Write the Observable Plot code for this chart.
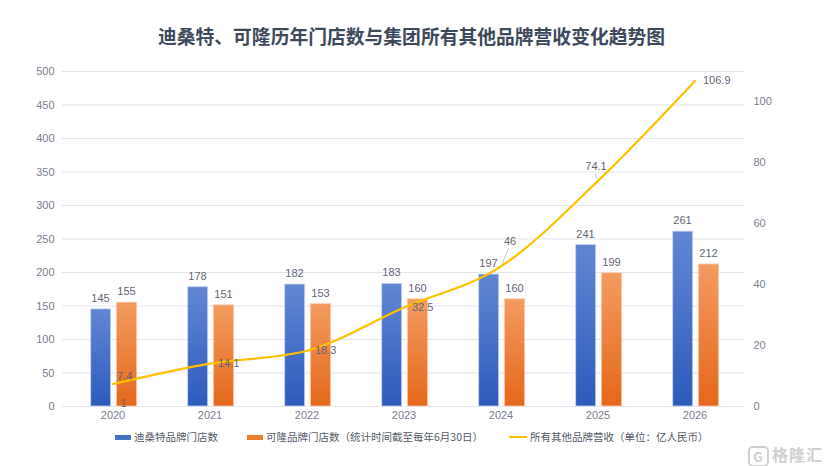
<!DOCTYPE html>
<html><head><meta charset="utf-8">
<script src="https://cdn.jsdelivr.net/npm/d3@7"></script>
<script src="https://cdn.jsdelivr.net/npm/@observablehq/plot@0.6"></script>
<style>
html,body{margin:0;padding:0;background:#fff;}
#wrap{position:relative;width:831px;height:466px;overflow:hidden;font-family:"Liberation Sans","Noto Sans CJK SC",sans-serif;}
#title{position:absolute;top:23px;left:0;width:823px;text-align:center;font-size:18.8px;font-weight:bold;color:#3e4a5c;line-height:26px;font-family:"Noto Sans CJK SC",sans-serif;}
#chart{position:absolute;top:55px;left:0;}
.leg{position:absolute;top:430px;font-size:10.5px;color:#555b66;line-height:14px;display:flex;align-items:center;font-family:"Noto Sans CJK SC",sans-serif;white-space:nowrap;}
.sw{display:inline-block;width:16px;height:5px;margin-right:3px;}
#wm{position:absolute;right:8px;top:442px;font-size:16px;color:#d0d0d0;font-family:"Noto Sans CJK SC",sans-serif;font-weight:bold;letter-spacing:1px;}
#wm span{display:inline-block;border:2px solid #d0d0d0;border-radius:5px;width:17px;height:17px;line-height:17px;text-align:center;font-size:13px;margin-right:3px;vertical-align:middle;}
</style></head>
<body>
<div id="wrap">
  <div id="title">迪桑特、可隆历年门店数与集团所有其他品牌营收变化趋势图</div>
  <div id="chart"></div>
  <div class="leg" style="left:115px"><span class="sw" style="background:#4472c4"></span>迪桑特品牌门店数</div>
  <div class="leg" style="left:247px"><span class="sw" style="background:#ed7d31"></span>可隆品牌门店数（统计时间截至每年6月30日）</div>
  <div class="leg" style="left:509px"><span class="sw" style="background:#ffc000;height:2.5px;width:18px"></span>所有其他品牌营收（单位：亿人民币）</div>
  <div id="wm"><span>G</span>格隆汇</div>
</div>
<script>
const years = ["2020","2021","2022","2023","2024","2025","2026"];
const descenteStores = [145,178,182,183,197,241,261];
const kolonStores = [155,151,153,160,160,199,212];
const otherRevenue = [7.4,14.1,18.3,32.5,46,74.1,106.9];
const leftTicks = [0,50,100,150,200,250,300,350,400,450,500];
const rightTicks = [0,20,40,60,80,100];
const rightMax = 110;
const leftMax = 500;
const k = leftMax / rightMax;

const rows = years.map((y,i)=>({year:y, d:descenteStores[i], c:kolonStores[i], r:otherRevenue[i], rs:otherRevenue[i]*k, i}));
const labelColor = "#5f6673";
const axisColor = "#7a8090";

function defs(){
  const ns="http://www.w3.org/2000/svg";
  const d=document.createElementNS(ns,"defs");
  const mk=(id,top,bot)=>{
    const g=document.createElementNS(ns,"linearGradient");
    g.setAttribute("id",id);g.setAttribute("x1","0");g.setAttribute("x2","0");g.setAttribute("y1","0");g.setAttribute("y2","1");
    g.setAttribute("gradientUnits","objectBoundingBox");
    [[0,top],[1,bot]].forEach(([o,c])=>{const s=document.createElementNS(ns,"stop");s.setAttribute("offset",o);s.setAttribute("stop-color",c);g.appendChild(s);});
    d.appendChild(g);
  };
  mk("gBlue","#6286d3","#2d5bbb");
  mk("gOrange","#f39b60","#e4681b");
  return d;
}

const rightGroup = rows.filter(r=>[1,2,3,6].includes(r.i));
const firstGroup = rows.filter(r=>r.i===0);
const aboveA = rows.filter(r=>r.i===4);
const aboveB = rows.filter(r=>r.i===5);

const plot = Plot.plot({
  width: 831,
  height: 370,
  marginTop: 16,
  marginBottom: 19,
  marginLeft: 62,
  marginRight: 86,
  style:{fontFamily:'"Liberation Sans","Noto Sans CJK SC",sans-serif', fontSize:"11px", background:"transparent"},
  x:{domain:years, padding:0, label:null},
  y:{domain:[0,leftMax], label:null},
  marks:[
    defs,
    Plot.gridY(leftTicks,{stroke:"#e3e5ea", strokeOpacity:1, strokeWidth:1}),
    Plot.axisY(leftTicks,{tickSize:0, tickPadding:8, label:null, fill:axisColor, fontSize:11}),
    Plot.axisY(rightTicks.map(v=>v*k),{anchor:"right", tickSize:0, tickPadding:8, label:null, fill:axisColor, fontSize:11, tickFormat:d=>String(Math.round(d/k))}),
    Plot.axisX({tickSize:0, tickPadding:5, label:null, fill:axisColor, fontSize:11}),
    Plot.barY(rows,{x:"year", y:"d", fill:"url(#gBlue)", stroke:"#c9d5ef", strokeWidth:0.8, insetLeft:26.7, insetRight:50.3}),
    Plot.barY(rows,{x:"year", y:"c", fill:"url(#gOrange)", stroke:"#f8d2b8", strokeWidth:0.8, insetLeft:52.3, insetRight:24.3}),
    Plot.text(rows,{x:"year", y:"d", text:d=>String(d.d), dx:-12.5, dy:-11, fill:labelColor, fontSize:11}),
    Plot.text(rows,{x:"year", y:"c", text:d=>String(d.c), dx:13.5, dy:-11, fill:labelColor, fontSize:11}),
    Plot.text(firstGroup,{x:"year", y:0, text:()=>"1", dx:10.5, dy:-3, fill:labelColor, fontSize:11}),
    Plot.line(rows,{x:"year", y:"rs", stroke:"#ffc000", strokeWidth:2.2, curve:"monotone-x"}),
    Plot.text(rightGroup,{x:"year", y:"rs", text:d=>String(d.r), dx:8, textAnchor:"start", fill:labelColor, fontSize:11}),
    Plot.text(firstGroup,{x:"year", y:"rs", text:d=>String(d.r), dx:4, dy:-7, textAnchor:"start", fill:labelColor, fontSize:11}),
    Plot.text(aboveA,{x:"year", y:"rs", text:d=>String(d.r), dx:9, dy:-25, fill:labelColor, fontSize:11}),
    Plot.text(aboveB,{x:"year", y:"rs", text:d=>String(d.r), dx:-2, dy:-14, fill:labelColor, fontSize:11})
  ]
});
document.getElementById("chart").appendChild(plot);

// leader lines from the two raised labels to their points, placed with Plot's own scales
const xs = plot.scale("x"), ys = plot.scale("y");
const cx = yr => xs.apply(yr) + xs.bandwidth/2;
const svg = d3.select(plot);
const leaders = svg.append("g").attr("stroke","#b7c3d8").attr("stroke-width",0.9).attr("fill","none");
aboveA.forEach(r=>{
  const px = cx(r.year), py = ys.apply(r.rs);
  leaders.append("line").attr("x1",px+1.5).attr("y1",py-1).attr("x2",px+8).attr("y2",py-18);
});
aboveB.forEach(r=>{
  const px = cx(r.year), py = ys.apply(r.rs);
  leaders.append("line").attr("x1",px-0.5).attr("y1",py-1).attr("x2",px-2.5).attr("y2",py-7);
});
</script>
</body></html>
